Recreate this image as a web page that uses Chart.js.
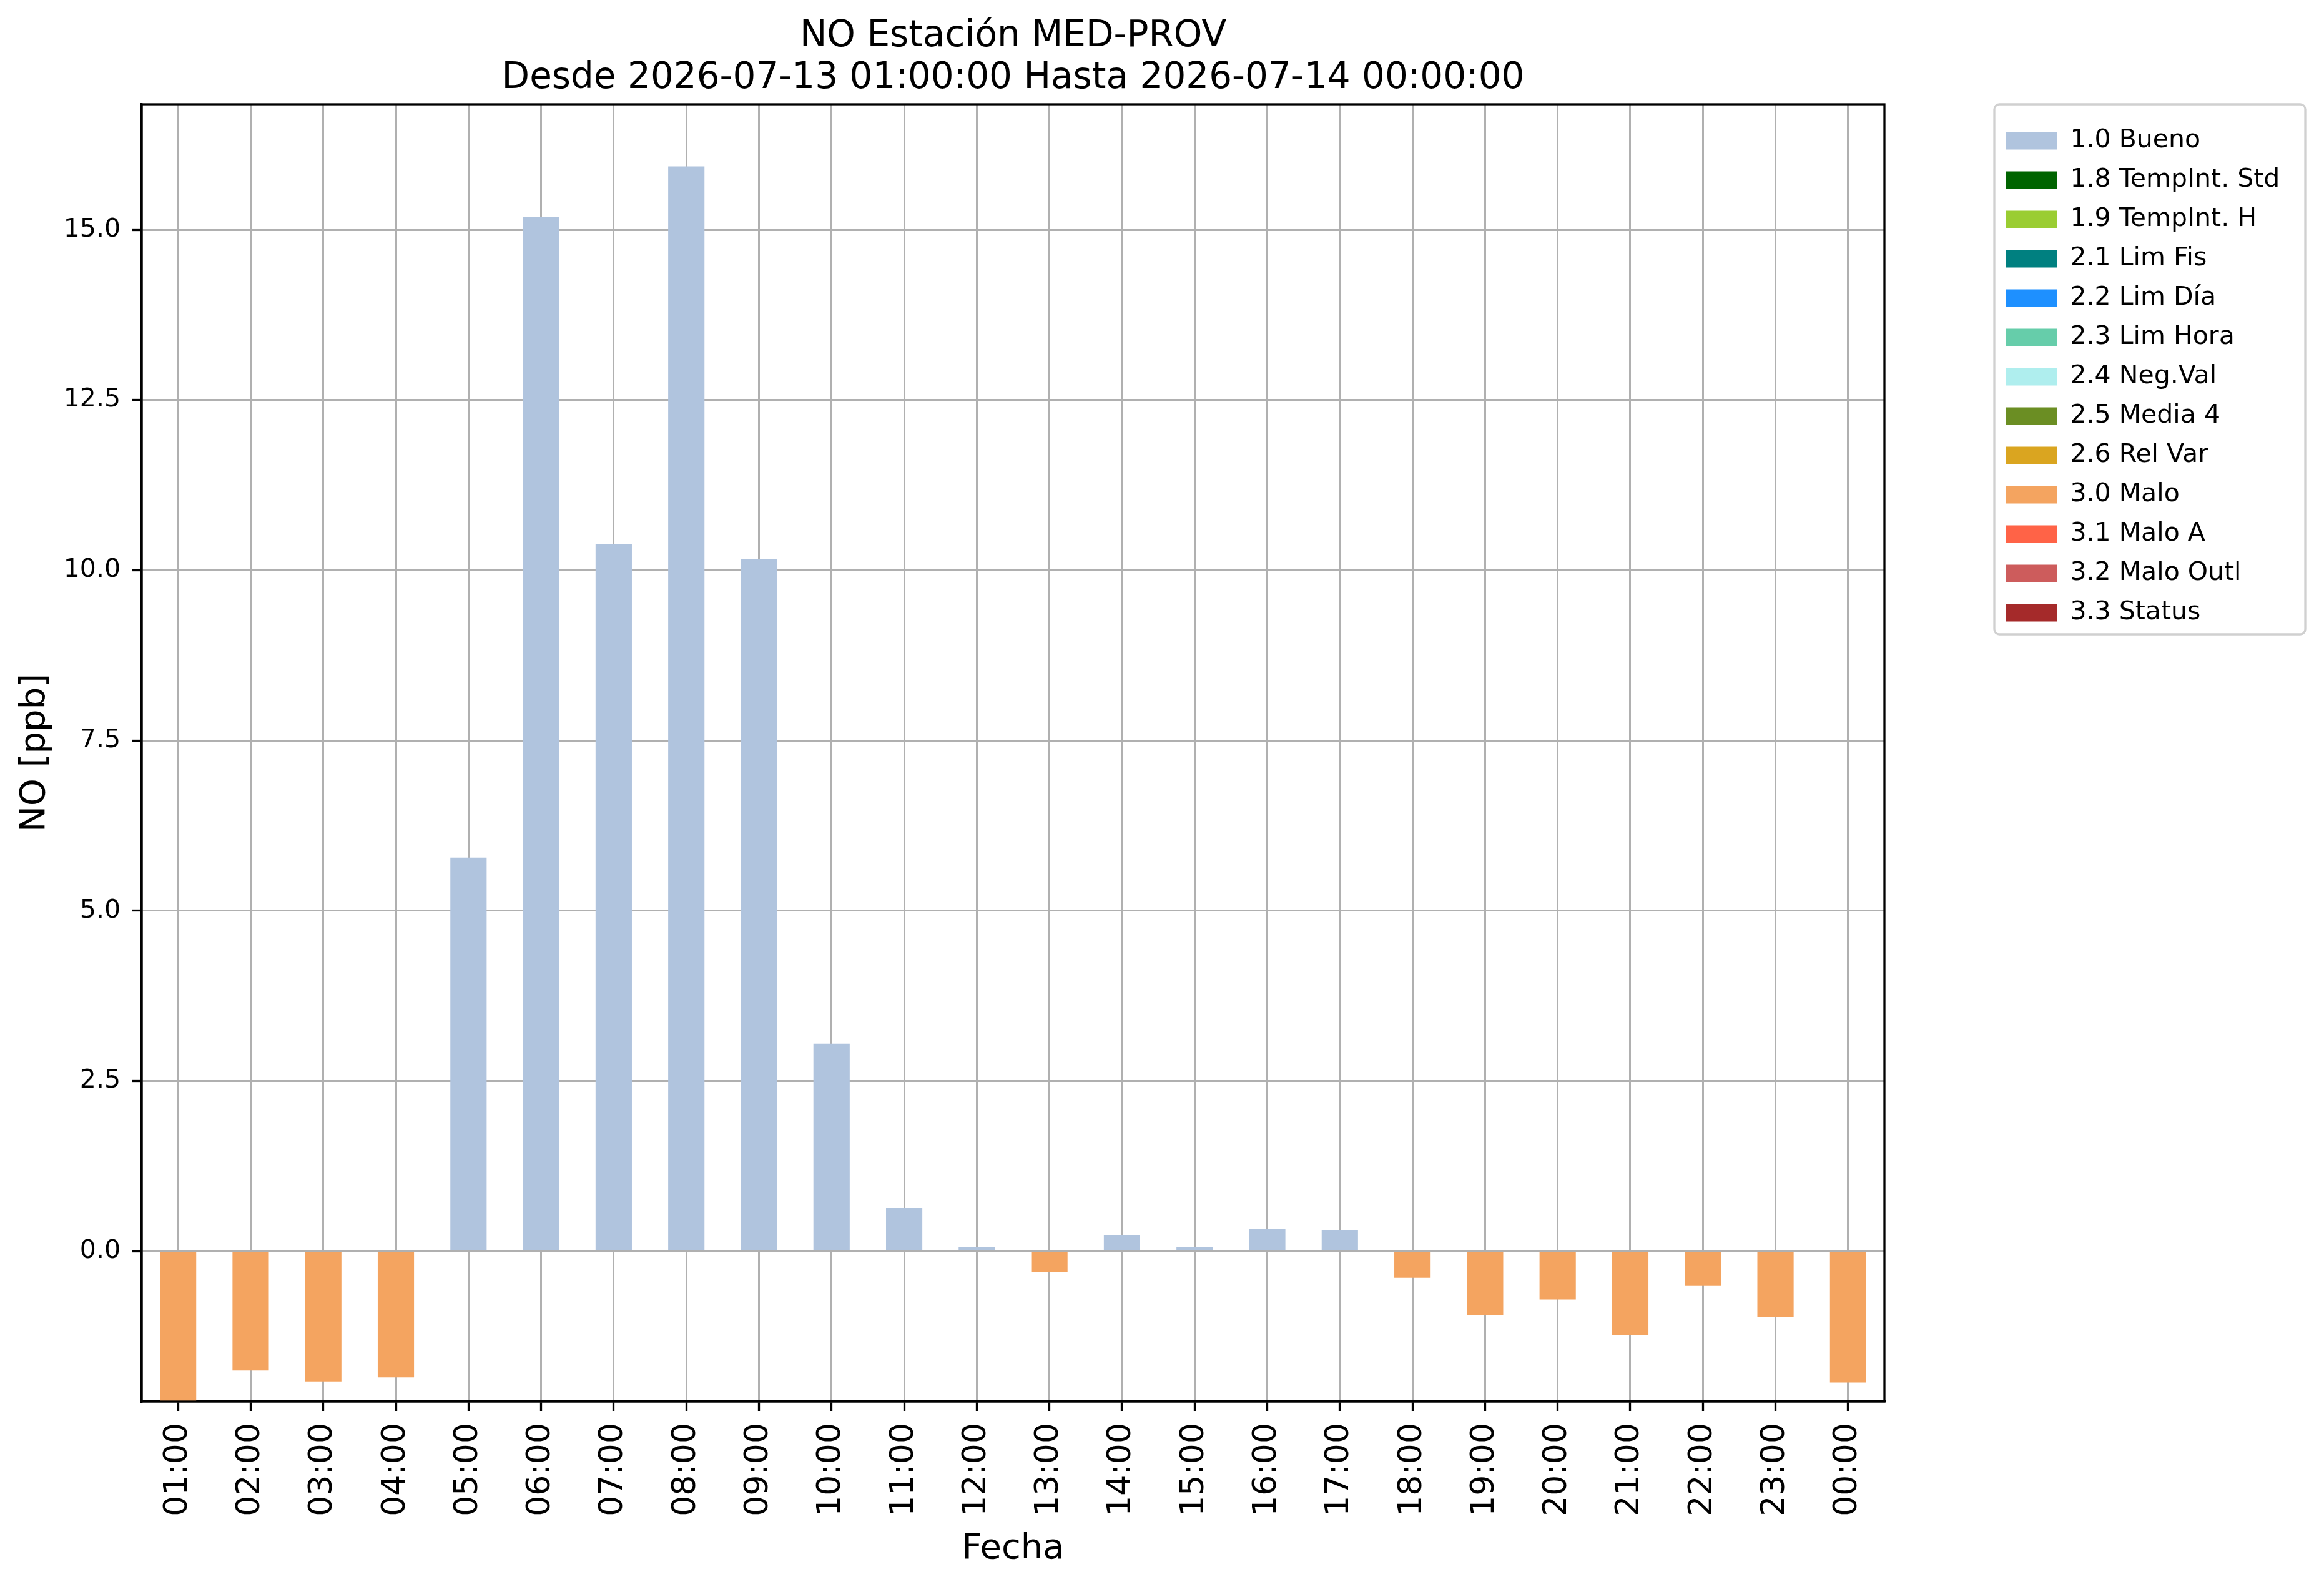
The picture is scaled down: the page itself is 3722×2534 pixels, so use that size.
<!DOCTYPE html>
<html>
<head>
<meta charset="utf-8">
<script src="https://cdn.jsdelivr.net/npm/chart.js@4/dist/chart.umd.min.js"></script>
<style>
  html, body { margin: 0; padding: 0; background: #ffffff; overflow: hidden; }
  canvas { display: block; }
</style>
</head>
<body>
<canvas id="c" width="3722" height="2534"></canvas>
<script>
// ---- Data ----
const titleLines = ['NO Estación MED-PROV', 'Desde 2026-07-13 01:00:00 Hasta 2026-07-14 00:00:00'];
const hours = ['01:00','02:00','03:00','04:00','05:00','06:00','07:00','08:00','09:00','10:00','11:00','12:00',
               '13:00','14:00','15:00','16:00','17:00','18:00','19:00','20:00','21:00','22:00','23:00','00:00'];
const buenoValues = [null, null, null, null, 5.78, 15.19, 10.39, 15.93, 10.17, 3.05, 0.635, 0.067,
                     null, 0.241, 0.067, 0.333, 0.314, null, null, null, null, null, null, null];
const maloValues = [-2.2, -1.75, -1.91, -1.85, null, null, null, null, null, null, null, null,
                    -0.305, null, null, null, null, -0.388, -0.937, -0.708, -1.23, -0.507, -0.965, -1.926];
const flagLabels = ['1.0 Bueno','1.8 TempInt. Std','1.9 TempInt. H','2.1 Lim Fis','2.2 Lim Día','2.3 Lim Hora',
                    '2.4 Neg.Val','2.5 Media 4','2.6 Rel Var','3.0 Malo','3.1 Malo A','3.2 Malo Outl','3.3 Status'];
const flagColors = ['#B0C4DE','#006400','#9ACD32','#008080','#1E90FF','#66CDAA',
                    '#AFEEEE','#6B8E23','#DAA520','#F4A460','#FF6347','#CD5C5C','#A52A2A'];
const yMin = -2.206, yMax = 16.843, yStep = 2.5;
const xTitle = 'Fecha', yTitle = 'NO [ppb]';

// ---- Build ----
const FONT = 'DejaVu Sans';
Chart.defaults.font.family = FONT;
Chart.defaults.color = '#000000';

const datasets = flagLabels.map((lab, i) => ({
  label: lab,
  data: lab === '1.0 Bueno' ? buenoValues : (lab === '3.0 Malo' ? maloValues : hours.map(() => null)),
  backgroundColor: flagColors[i],
  borderWidth: 0,
  categoryPercentage: 1.0,
  barPercentage: 0.5
}));

const LEG_FONT = 41, LEG_PAD = 22, LEG_BOX = 83;
const mctx = document.createElement('canvas').getContext('2d');
mctx.font = 'normal ' + LEG_FONT + 'px "' + FONT + '"';
const maxTW = Math.max(...flagLabels.map(t => mctx.measureText(t).width));
const legendW = LEG_PAD + LEG_BOX + LEG_FONT / 2 + maxTW + 10;
const legendLeft = 3190;
const padRight = Math.max(0, 3722 - legendLeft - legendW);

const framePlugin = {
  id: 'frame',
  afterDraw(chart) {
    const ctx = chart.ctx, a = chart.chartArea;
    ctx.save();
    ctx.strokeStyle = '#000000';
    ctx.lineWidth = 3.3;
    ctx.strokeRect(a.left, a.top, a.right - a.left, a.bottom - a.top);
    const lg = chart.legend;
    const hb = lg.legendHitBoxes;
    if (hb && hb.length) {
      const first = hb[0], last = hb[hb.length - 1];
      const x0 = first.left - 18, x1 = first.left + 480;
      const y0 = lg.top, y1 = last.top + last.height + 14;
      ctx.strokeStyle = '#d0d0d0';
      ctx.lineWidth = 3.3;
      ctx.beginPath();
      if (ctx.roundRect) ctx.roundRect(x0, y0, x1 - x0, y1 - y0, 8);
      else ctx.rect(x0, y0, x1 - x0, y1 - y0);
      ctx.stroke();
    }
    ctx.restore();
  }
};

new Chart(document.getElementById('c'), {
  type: 'bar',
  data: { labels: hours, datasets: datasets },
  options: {
    responsive: false,
    devicePixelRatio: 1,
    animation: false,
    layout: { padding: { left: 0, top: 0, bottom: 0, right: padRight } },
    plugins: {
      tooltip: { enabled: false },
      title: {
        display: true,
        text: titleLines,
        fullSize: false,
        color: '#000000',
        font: { family: FONT, size: 58, weight: 'normal', lineHeight: 67 / 58 },
        padding: { top: 25, bottom: 8 }
      },
      legend: {
        display: true,
        position: 'right',
        align: 'start',
        fullSize: false,
        title: { display: true, text: ' ', font: { size: 1, lineHeight: 1 }, padding: { top: 15, bottom: 0 } },
        labels: {
          color: '#000000',
          font: { family: FONT, size: LEG_FONT },
          boxWidth: LEG_BOX,
          boxHeight: 28,
          padding: LEG_PAD
        }
      }
    },
    scales: {
      x: {
        stacked: true,
        offset: true,
        z: 1,
        grid: { display: true, offset: false, color: '#b0b0b0', lineWidth: 3,
                drawTicks: true, tickLength: 15, tickColor: '#000000', tickWidth: 3.3 },
        border: { display: true, color: '#000000', width: 3.3 },
        ticks: { autoSkip: false, maxRotation: 90, minRotation: 90, padding: 19,
                 font: { family: FONT, size: 52 }, color: '#000000' },
        title: { display: true, text: xTitle, color: '#000000',
                 font: { family: FONT, size: 56, lineHeight: 1 }, padding: { top: 0, bottom: 25 } },
        afterFit(s) { s.height = 289; }
      },
      y: {
        stacked: true,
        min: yMin,
        max: yMax,
        z: 1,
        grid: { display: true, color: '#b0b0b0', lineWidth: 3,
                drawTicks: true, tickLength: 15, tickColor: '#000000', tickWidth: 3.3 },
        border: { display: true, color: '#000000', width: 3.3 },
        ticks: { stepSize: yStep, padding: 19, font: { family: FONT, size: 41 }, color: '#000000',
                 callback: (v) => Number(v).toFixed(1) },
        afterBuildTicks(s) {
          s.ticks = s.ticks.filter(t => Math.abs(t.value / yStep - Math.round(t.value / yStep)) < 1e-6);
        },
        title: { display: true, text: yTitle, color: '#000000',
                 font: { family: FONT, size: 56, lineHeight: 1 }, padding: { top: 28, bottom: 0 } },
        afterFit(s) { s.width = 227; }
      },
      gap: {
        type: 'linear',
        position: 'right',
        display: true,
        grid: { display: false, drawTicks: false },
        border: { display: false },
        ticks: { display: false },
        afterFit(s) { s.width = legendLeft - 3018; }
      }
    }
  },
  plugins: [framePlugin]
});
</script>
</body>
</html>
